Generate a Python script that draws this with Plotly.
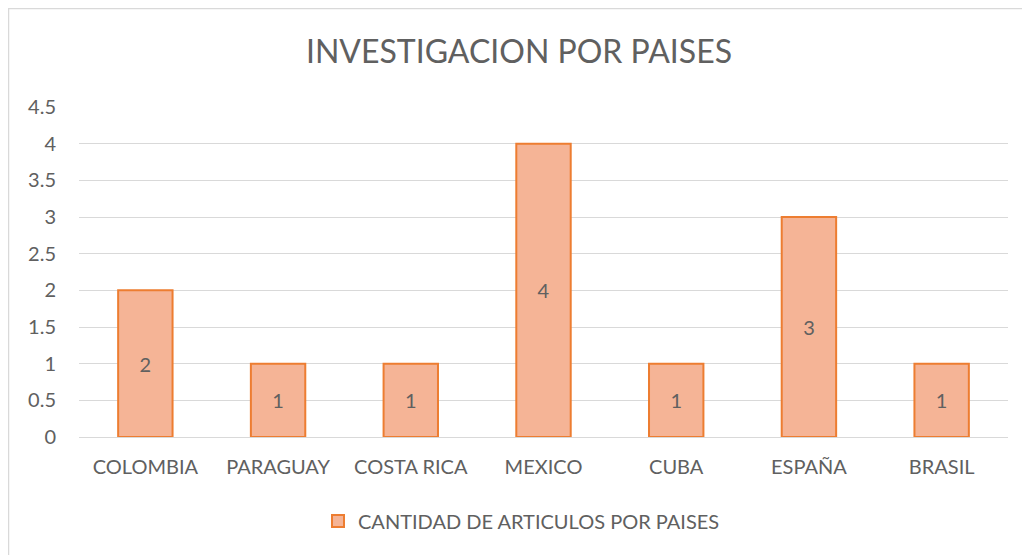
import plotly.graph_objects as go

categories = ["COLOMBIA", "PARAGUAY", "COSTA RICA", "MEXICO", "CUBA", "ESPAÑA", "BRASIL"]
values = [2, 1, 1, 4, 1, 3, 1]
series_name = "CANTIDAD DE ARTICULOS POR PAISES"
y_ticks = [0, 0.5, 1, 1.5, 2, 2.5, 3, 3.5, 4, 4.5]
y_ticktext = ["0", "0.5", "1", "1.5", "2", "2.5", "3", "3.5", "4", "4.5"]

font_family = "Lato, 'Open Sans', sans-serif"
grey = "#606060"

# page body has an 8px margin; figure sized to fill the rest of the window
W, H = 1022, 547
L, R, T, B = 71, 22, 99, 118
pw, ph = W - L - R, H - T - B

fig = go.Figure()
fig.add_trace(go.Bar(
    x=categories, y=values, name=series_name,
    text=[str(v) for v in values], textposition="inside", insidetextanchor="middle",
    textfont=dict(family=font_family, size=20, color=grey),
    marker=dict(color="#F5B496", line=dict(color="#ED7D31", width=2)),
    width=0.41, showlegend=True,
))

fig.update_layout(
    width=W, height=H,
    paper_bgcolor="white", plot_bgcolor="white",
    margin=dict(l=L, r=R, t=T, b=B),
    title=dict(text="INVESTIGACION POR PAISES", x=0.5, xanchor="center", y=1 - 44 / H, yanchor="middle",
               font=dict(family=font_family, size=32, color=grey)),
    font=dict(family=font_family, color=grey),
    showlegend=True,
    legend=dict(orientation="h", x=0.5 - 22 / pw, xanchor="center", y=-(513 - (H - B)) / ph, yanchor="middle",
                itemwidth=30,
                font=dict(family=font_family, size=20, color=grey)),
    xaxis=dict(showgrid=False, showline=True, linecolor="#D9D9D9", linewidth=1,
               tickfont=dict(size=20, color=grey), ticks="", ticklabelstandoff=12),
    yaxis=dict(range=[0, 4.5], tickvals=y_ticks, ticktext=y_ticktext, showgrid=True,
               gridcolor="#D9D9D9", gridwidth=1, zeroline=False, ticks="",
               tickfont=dict(size=20, color=grey), ticklabelstandoff=22),
    shapes=[dict(type="rect", xref="paper", yref="paper",
                 x0=-(L - 0.5) / pw, x1=1 + 60 / pw, y0=-(B + 40) / ph, y1=1 + (T - 0.5) / ph,
                 line=dict(color="#D9D9D9", width=1.5), fillcolor="rgba(0,0,0,0)", layer="below")],
)

fig.write_html("out.html")
